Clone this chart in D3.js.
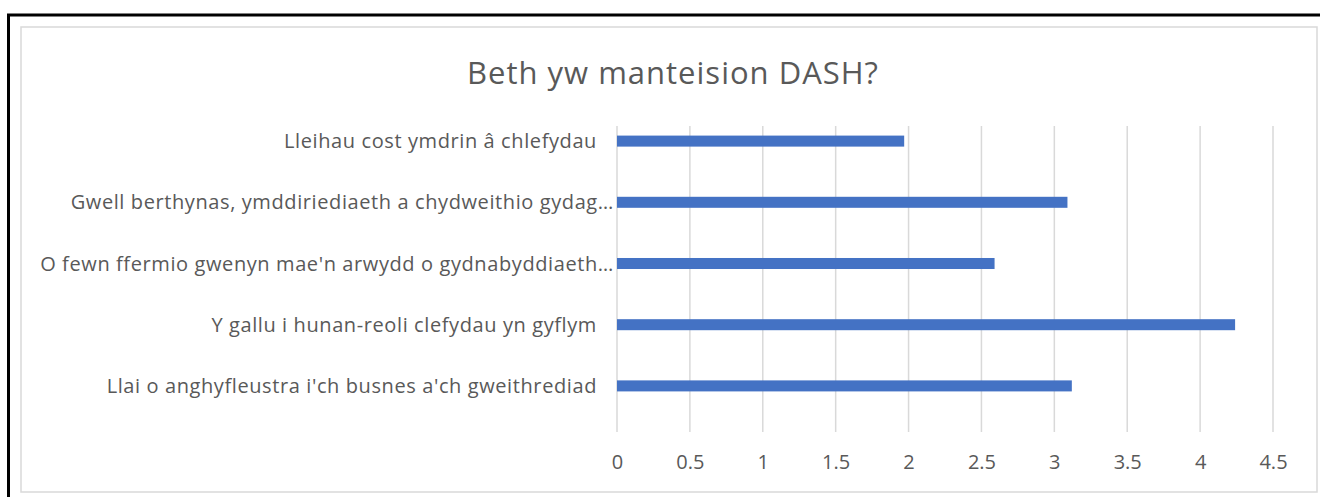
<!DOCTYPE html>
<html>
<head>
<meta charset="utf-8">
<script src="https://cdn.jsdelivr.net/npm/d3@7"></script>
<style>
    body { margin: 0; background: #fff; }
    text { font-family: "Open Sans", "Noto Sans", sans-serif; fill: #595959; }
</style>
</head>
<body>
<div id="plot"></div>
<script>
let svgWidth = 1320;
let svgHeight = 497;

// Data
let categories = [
    "Lleihau cost ymdrin â chlefydau",
    "Gwell berthynas, ymddiriediaeth a chydweithio gydag…",
    "O fewn ffermio gwenyn mae'n arwydd o gydnabyddiaeth…",
    "Y gallu i hunan-reoli clefydau yn gyflym",
    "Llai o anghyfleustra i'ch busnes a'ch gweithrediad"
];
let values = [1.97, 3.09, 2.59, 4.24, 3.12];
let tickValues = [0, 0.5, 1, 1.5, 2, 2.5, 3, 3.5, 4, 4.5];
let title = "Beth yw manteision DASH?";

let margin = { top: 126, right: 47, bottom: 65, left: 617 };
let chartWidth = 1273 - margin.left;
let chartHeight = 432 - margin.top;

let $svg = d3.select('#plot')
    .append('svg')
    .attr('width', svgWidth)
    .attr('height', svgHeight);

// outer black frame (runs off the right/bottom edges)
$svg.append('rect')
    .attr('x', 8.5).attr('y', 15)
    .attr('width', 1340).attr('height', 520)
    .attr('fill', 'none')
    .attr('stroke', '#000')
    .attr('stroke-width', 3);

// chart area border
$svg.append('rect')
    .attr('x', 21).attr('y', 27)
    .attr('width', 1296).attr('height', 465)
    .attr('fill', '#fff')
    .attr('stroke', '#d9d9d9')
    .attr('stroke-width', 1.5);

$svg.append('text')
    .attr('x', 673)
    .attr('y', 84)
    .attr('text-anchor', 'middle')
    .style('font-size', '31px')
    .style('letter-spacing', '1px')
    .text(title);

let $chartGroup = $svg.append('g')
    .attr('transform', `translate(${margin.left}, ${margin.top})`);

let xLinearScale = d3.scaleLinear()
    .domain([0, 4.5])
    .range([0, chartWidth]);

// bars sit a little higher than the gridline span
let yBandScale = d3.scaleBand()
    .domain(categories)
    .range([-15.5, chartHeight - 15.5])
    .paddingInner(0.82)
    .paddingOuter(0.41);

// gridlines
$chartGroup.append('g')
    .selectAll('line')
    .data(tickValues)
    .enter()
    .append('line')
    .attr('x1', d => xLinearScale(d))
    .attr('x2', d => xLinearScale(d))
    .attr('y1', 0)
    .attr('y2', chartHeight)
    .attr('stroke', '#d9d9d9')
    .attr('stroke-width', 1.5);

// x axis labels
let bottomAxis = d3.axisBottom(xLinearScale)
    .tickValues(tickValues)
    .tickSize(0)
    .tickPadding(23)
    .tickFormat(d => d);

let $xAxis = $chartGroup.append('g')
    .attr('transform', `translate(0, ${chartHeight})`)
    .call(bottomAxis);
$xAxis.select('.domain').remove();
$xAxis.selectAll('text')
    .style('font-size', '20px')
    .style('font-family', '"Open Sans", sans-serif')
    .attr('fill', '#595959');

// bars
$chartGroup.selectAll('rect.bar')
    .data(values)
    .enter()
    .append('rect')
    .attr('class', 'bar')
    .attr('x', 0)
    .attr('y', (d, i) => yBandScale(categories[i]))
    .attr('width', d => xLinearScale(d))
    .attr('height', yBandScale.bandwidth())
    .attr('fill', '#4472c4');

// category labels
$chartGroup.selectAll('text.cat')
    .data(categories)
    .enter()
    .append('text')
    .attr('class', 'cat')
    .attr('x', d => d.endsWith('…') ? -3 : -20)
    .attr('y', d => yBandScale(d) + yBandScale.bandwidth() / 2)
    .attr('dy', '0.35em')
    .attr('text-anchor', 'end')
    .style('font-size', '20px')
    .style('letter-spacing', '0.6px')
    .text(d => d);
</script>
</body>
</html>
